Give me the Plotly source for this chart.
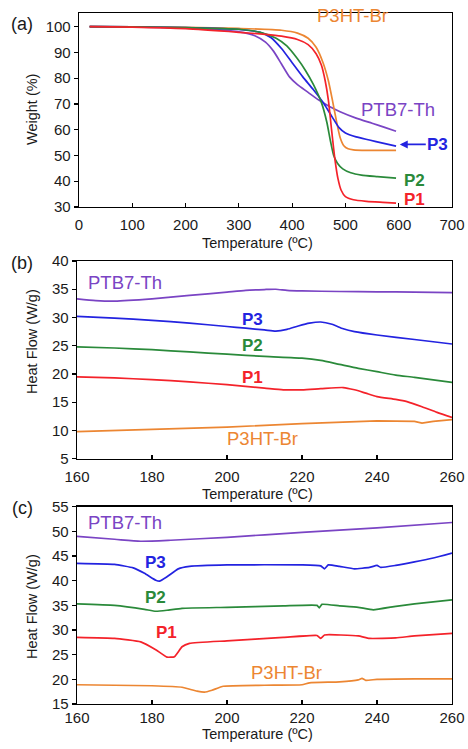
import plotly.graph_objects as go

W, H = 468, 749

# ---------------- Panel (a): TGA ----------------
tga_T_p1 = [20, 100, 200, 300, 350, 380, 410, 430, 445, 455, 462, 468, 474, 480, 486, 492, 500, 515, 540, 570, 595]
tga_p1 = [100, 99.8, 99.2, 97.8, 97.0, 96.3, 95.0, 93.0, 89.5, 85.0, 79.0, 71.5, 60.0, 49.0, 41.0, 36.5, 34.0, 32.8, 32.2, 31.8, 31.5]

tga_T_p2 = [20, 100, 200, 300, 340, 370, 390, 410, 425, 440, 455, 465, 472, 478, 485, 495, 510, 530, 560, 595]
tga_p2 = [100, 99.9, 99.6, 99.0, 97.8, 95.5, 92.5, 87.5, 83.0, 77.5, 70.5, 63.0, 55.5, 50.0, 47.0, 44.8, 43.3, 42.4, 41.8, 41.2]

tga_T_p3 = [20, 100, 200, 300, 340, 360, 380, 400, 420, 440, 460, 475, 488, 500, 520, 545, 570, 595]
tga_p3 = [100, 99.9, 99.6, 98.9, 97.8, 95.8, 91.5, 86.0, 80.5, 75.5, 70.0, 65.0, 60.8, 58.7, 57.2, 56.0, 54.8, 53.6]

tga_T_p3ht = [20, 100, 200, 300, 380, 410, 430, 445, 458, 468, 476, 483, 490, 497, 505, 515, 540, 570, 595]
tga_p3ht = [100, 99.9, 99.7, 99.3, 98.6, 97.5, 95.5, 92.0, 86.0, 79.0, 71.0, 63.5, 57.0, 53.8, 52.6, 52.2, 52.0, 52.0, 52.0]

tga_T_ptb = [20, 100, 200, 300, 330, 350, 365, 380, 395, 410, 430, 450, 470, 490, 520, 550, 575, 595]
tga_ptb = [100, 99.9, 99.5, 98.0, 96.5, 94.0, 90.5, 85.5, 80.5, 77.5, 74.5, 71.5, 69.0, 67.0, 64.5, 62.5, 60.8, 59.4]

# ---------------- Panel (b): DSC ----------------
dsc_b_T_ptb = [160, 165, 170, 180, 190, 200, 205, 210, 213, 216, 220, 230, 240, 250, 260]
dsc_b_ptb = [33.3, 33.0, 32.9, 33.3, 33.9, 34.5, 34.8, 34.95, 35.0, 34.8, 34.7, 34.6, 34.55, 34.5, 34.4]

dsc_b_T_p3 = [160, 170, 180, 190, 200, 205, 210, 213, 216, 219, 222, 225, 228, 231, 234, 240, 250, 260]
dsc_b_p3 = [30.2, 29.9, 29.5, 29.0, 28.4, 28.1, 27.8, 27.6, 27.9, 28.5, 29.0, 29.2, 28.8, 28.0, 27.5, 26.9, 26.1, 25.3]

dsc_b_T_p2 = [160, 170, 180, 190, 200, 210, 220, 225, 230, 235, 240, 245, 250, 260]
dsc_b_p2 = [24.8, 24.6, 24.3, 23.9, 23.5, 23.1, 22.8, 22.4, 21.7, 21.0, 20.4, 19.8, 19.4, 18.5]

dsc_b_T_p1 = [160, 170, 180, 190, 200, 210, 215, 220, 225, 231, 234, 237, 240, 245, 248, 252, 256, 260]
dsc_b_p1 = [19.5, 19.3, 19.0, 18.6, 18.1, 17.5, 17.2, 17.2, 17.4, 17.6, 17.2, 16.6, 16.0, 15.5, 15.1, 14.2, 13.2, 12.3]

dsc_b_T_p3ht = [160, 180, 200, 220, 240, 250, 252, 255, 260]
dsc_b_p3ht = [9.8, 10.2, 10.6, 11.2, 11.7, 11.6, 11.3, 11.6, 11.9]

# ---------------- Panel (c): DSC ----------------
dsc_c_T_ptb = [160, 170, 177, 185, 200, 220, 240, 260]
dsc_c_ptb = [49.0, 48.4, 48.0, 48.2, 48.8, 49.8, 50.7, 51.8]

dsc_c_T_p3 = [160, 170, 175, 178, 181, 182, 184, 187, 190, 200, 220, 225, 226, 227, 230, 234, 238, 240, 241, 245, 250, 255, 260]
dsc_c_p3 = [43.5, 43.3, 42.6, 41.5, 40.1, 39.9, 40.8, 42.4, 42.9, 43.2, 43.2, 43.0, 42.4, 43.2, 42.9, 42.4, 42.7, 43.1, 42.7, 43.1, 43.8, 44.6, 45.6]

dsc_c_T_p2 = [160, 170, 178, 181, 184, 188, 200, 215, 224, 224.6, 225.3, 230, 235, 239, 245, 250, 260]
dsc_c_p2 = [35.3, 35.0, 34.2, 33.8, 34.0, 34.4, 34.6, 34.9, 35.0, 34.5, 35.2, 34.9, 34.6, 34.1, 34.8, 35.3, 36.1]

dsc_c_T_p1 = [160, 170, 177, 181, 184, 186, 188, 190, 200, 215, 224, 225, 226, 235, 238, 245, 250, 260]
dsc_c_p1 = [28.5, 28.3, 27.6, 26.0, 24.5, 24.6, 26.6, 27.3, 27.8, 28.5, 28.9, 28.3, 29.0, 28.8, 28.3, 28.4, 28.8, 29.3]

dsc_c_T_p3ht = [160, 180, 188, 192, 194, 196, 199, 210, 220, 222, 230, 235, 236, 237, 240, 250, 260]
dsc_c_p3ht = [18.9, 18.7, 18.4, 17.6, 17.4, 17.8, 18.6, 18.8, 18.9, 19.3, 19.5, 19.9, 20.2, 19.8, 20.0, 20.1, 20.1]

C_RED = "#F4222A"
C_GREEN = "#2A8A3A"
C_BLUE = "#2323E0"
C_ORANGE = "#EC8632"
C_PURPLE = "#7A44C4"
FONT = "Liberation Sans, Arial, sans-serif"
LW = 1.7

fig = go.Figure()

def add(x, y, color, xa, ya, shape="linear", smooth=0.6):
    fig.add_trace(go.Scatter(x=x, y=y, mode="lines", line=dict(color=color, width=LW, shape=shape, smoothing=smooth),
                             xaxis=xa, yaxis=ya, showlegend=False, hoverinfo="skip"))

add(tga_T_ptb, tga_ptb, C_PURPLE, "x", "y", "spline")
add(tga_T_p3ht, tga_p3ht, C_ORANGE, "x", "y", "spline")
add(tga_T_p3, tga_p3, C_BLUE, "x", "y", "spline")
add(tga_T_p2, tga_p2, C_GREEN, "x", "y", "spline")
add(tga_T_p1, tga_p1, C_RED, "x", "y", "spline")

add(dsc_b_T_ptb, dsc_b_ptb, C_PURPLE, "x2", "y2", "spline")
add(dsc_b_T_p3, dsc_b_p3, C_BLUE, "x2", "y2", "spline")
add(dsc_b_T_p2, dsc_b_p2, C_GREEN, "x2", "y2", "spline")
add(dsc_b_T_p1, dsc_b_p1, C_RED, "x2", "y2", "spline")
add(dsc_b_T_p3ht, dsc_b_p3ht, C_ORANGE, "x2", "y2", "linear")

add(dsc_c_T_ptb, dsc_c_ptb, C_PURPLE, "x3", "y3", "spline")
add(dsc_c_T_p3, dsc_c_p3, C_BLUE, "x3", "y3", "spline", 0.4)
add(dsc_c_T_p2, dsc_c_p2, C_GREEN, "x3", "y3", "spline", 0.4)
add(dsc_c_T_p1, dsc_c_p1, C_RED, "x3", "y3", "spline", 0.4)
add(dsc_c_T_p3ht, dsc_c_p3ht, C_ORANGE, "x3", "y3", "spline", 0.4)

def px(x):
    return x / W

def py(y):
    return 1 - y / H

base = dict(showline=True, linecolor="black", linewidth=1.3, mirror=True,
            tickwidth=1.2, tickcolor="black", showgrid=False, zeroline=False, automargin=False,
            tickfont=dict(family=FONT, size=15, color="#1a1a1a"))
xax = dict(base, ticks="inside", ticklen=4, ticklabelstandoff=4)
yax = dict(base, ticks="outside", ticklen=4)

fig.update_layout(
    template="none",
    width=W, height=H, margin=dict(l=0, r=0, t=0, b=0, pad=0), autosize=False,
    paper_bgcolor="white", plot_bgcolor="white",
    xaxis=dict(xax, domain=[px(79), px(452)], range=[0, 700], dtick=100, anchor="y"),
    yaxis=dict(yax, domain=[py(207), py(13)], range=[30, 105.3], tick0=30, dtick=10, anchor="x"),
    xaxis2=dict(xax, domain=[px(77), px(452)], range=[160, 260], dtick=20, anchor="y2"),
    yaxis2=dict(yax, domain=[py(458.7), py(261)], range=[5, 40], dtick=5, anchor="x2"),
    xaxis3=dict(xax, domain=[px(77), px(452)], range=[160, 260], dtick=20, anchor="y3", ticklabelstandoff=0),
    yaxis3=dict(yax, domain=[py(704), py(506.7)], range=[15, 55], dtick=5, anchor="x3"),
)

ann = []

def txt(text, x, y, color="#1a1a1a", size=18, bold=False, angle=0):
    t = f"<b>{text}</b>" if bold else text
    ann.append(dict(text=t, x=px(x), y=py(y), xref="paper", yref="paper", showarrow=False,
                    xanchor="center", yanchor="middle", textangle=angle,
                    font=dict(family=FONT, size=size, color=color)))

# panel letters
txt("(a)", 22, 24, size=18)
txt("(b)", 22, 263, size=18)
txt("(c)", 22, 508, size=18)

# axis titles
txt("Weight (%)", 32, 110, size=14.5, angle=-90)
txt("Heat Flow (W/g)", 32, 342, size=14.5, angle=-90)
txt("Heat Flow (W/g)", 32, 607, size=14.5, angle=-90)
txt("Temperature (ºC)", 257, 243, size=14.5)
txt("Temperature (ºC)", 257, 494, size=14.5)
txt("Temperature (ºC)", 257, 734, size=14.5)

# panel (a) labels
txt("P3HT-Br", 352, 15, C_ORANGE, 18.5)
txt("PTB7-Th", 398, 110, C_PURPLE, 18.5)
txt("P2", 414, 180, C_GREEN, 17, True)
txt("P1", 414, 199, C_RED, 17, True)
ann.append(dict(text="<b>P3</b>", x=602, y=54.3, xref="x", yref="y", showarrow=True,
                ax=38, ay=0, arrowhead=2, arrowsize=1, arrowwidth=1.6, arrowcolor=C_BLUE,
                font=dict(family=FONT, size=17, color=C_BLUE)))

# panel (b) labels
txt("PTB7-Th", 125, 282, C_PURPLE, 18.5)
txt("P3", 252, 319, C_BLUE, 17, True)
txt("P2", 252, 345, C_GREEN, 17, True)
txt("P1", 252, 377, C_RED, 17, True)
txt("P3HT-Br", 262, 438, C_ORANGE, 18.5)

# panel (c) labels
txt("PTB7-Th", 125, 522, C_PURPLE, 18.5)
txt("P3", 155, 562, C_BLUE, 17, True)
txt("P2", 155, 597, C_GREEN, 17, True)
txt("P1", 166, 632, C_RED, 17, True)
txt("P3HT-Br", 286, 672, C_ORANGE, 18.5)

fig.update_layout(annotations=ann)
fig.write_html("out.html", config={"displayModeBar": False, "staticPlot": True},
               post_script="document.body.style.margin='0';document.body.style.padding='0';document.body.style.overflow='hidden';")
